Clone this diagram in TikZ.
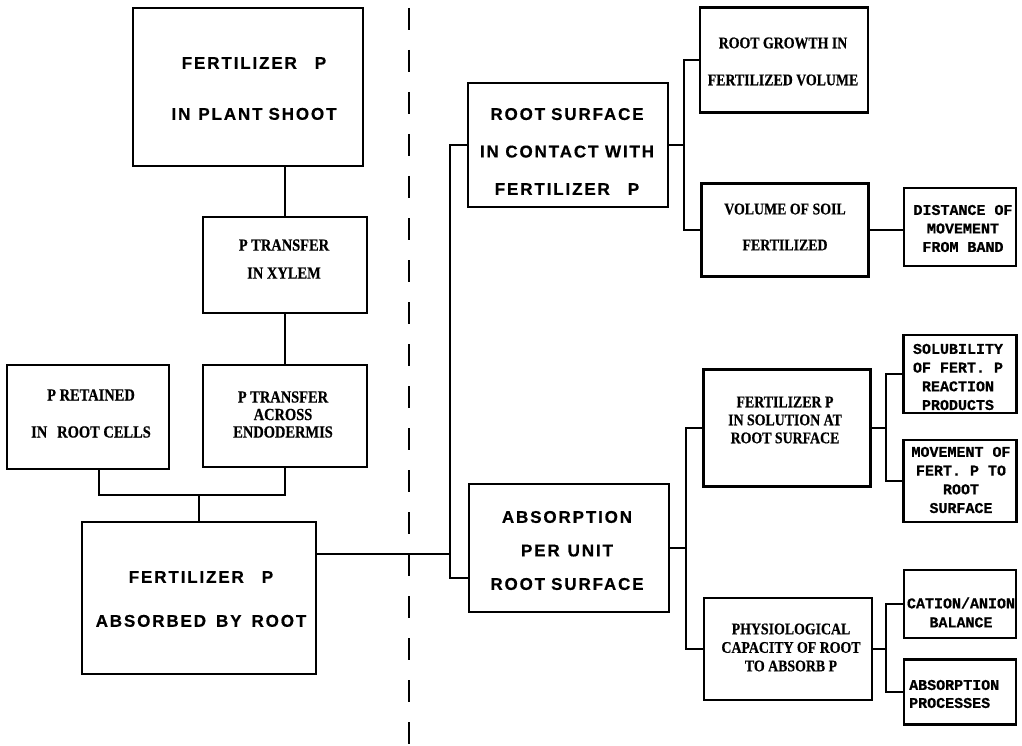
\documentclass[tikz,border=0pt]{standalone}
\usepackage{fontspec}
\setmainfont{Liberation Serif}
\newfontfamily\bigsans{Liberation Sans}[LetterSpace=11, FakeBold=0.6]
\newfontfamily\cserif{Liberation Serif}[FakeStretch=0.85, FakeBold=0.5]
\newfontfamily\monob{Liberation Mono}[FakeBold=0.5]
\begin{document}
\begin{tikzpicture}[x=1pt,y=-1pt,
  box/.style={draw, line width=2.3pt, inner sep=0pt},
  wire/.style={line width=1.9pt},
  divider/.style={line width=2pt, dash pattern=on 22pt off 20pt},
  bigtxt/.style={font=\bigsans\bfseries\fontsize{17}{#1}\selectfont, align=center, inner sep=0pt},
  midtxt/.style={font=\cserif\bfseries\fontsize{17}{#1}\selectfont, align=center, inner sep=0pt},
  rmidtxt/.style={font=\cserif\bfseries\fontsize{16.3}{#1}\selectfont, align=center, inner sep=0pt},
  smtxt/.style={font=\monob\bfseries\fontsize{15}{#1}\selectfont, align=center, inner sep=0pt}]
\useasboundingbox[fill=white] (0,0) rectangle (1022,746);

% boxes
\node[box, minimum width=230pt, minimum height=158pt] (shoot) at (248,87) {};
\node[box, minimum width=164pt, minimum height=96pt] (xylem) at (285,265) {};
\node[box, minimum width=162pt, minimum height=104pt] (retained) at (88,417) {};
\node[box, minimum width=164pt, minimum height=102pt] (endo) at (285,416) {};
\node[box, minimum width=234pt, minimum height=152pt] (absorbed) at (199,598) {};
\node[box, minimum width=200pt, minimum height=124pt] (rootsurf) at (568,145) {};
\node[box, minimum width=200pt, minimum height=128pt] (absorp) at (569,548) {};
\node[box, minimum width=168pt, minimum height=105pt] (growth) at (784,60) {};
\node[box, minimum width=167pt, minimum height=93pt] (volume) at (785,230) {};
\node[box, minimum width=112pt, minimum height=78pt] (distance) at (960,227) {};
\node[box, minimum width=167pt, minimum height=117pt] (solution) at (787,428) {};
\node[box, minimum width=113pt, minimum height=78pt] (solub) at (960,374) {};
\node[box, minimum width=113pt, minimum height=82pt] (movement) at (960,481) {};
\node[box, minimum width=168pt, minimum height=102pt] (physio) at (788,649) {};
\node[box, minimum width=112pt, minimum height=68pt] (cation) at (960,604) {};
\node[box, minimum width=112pt, minimum height=65pt] (absproc) at (960,692) {};

% texts
\node[bigtxt=51] (shoot-t) at (254,88.5) {FERTILIZER\hspace{18pt}P\\IN\hspace{8pt}PLANT\hspace{6pt}SHOOT};
\node[midtxt=28] (xylem-t) at (284,259) {P TRANSFER\\IN XYLEM};
\node[midtxt=37] (retained-t) at (91,413.5) {P RETAINED\\IN\hspace{10pt}ROOT CELLS};
\node[midtxt=17.5] (endo-t) at (283,414.5) {P TRANSFER\\ACROSS\\ENDODERMIS};
\node[bigtxt=44] (absorbed-t) at (201,599) {FERTILIZER\hspace{18pt}P\\ABSORBED\hspace{10pt}BY\hspace{10pt}ROOT};
\node[bigtxt=37.5] (rootsurf-t) at (567,151.5) {ROOT\hspace{6pt}SURFACE\\IN CONTACT WITH\\FERTILIZER\hspace{18pt}P};
\node[bigtxt=33.5] (absorp-t) at (567,550.5) {ABSORPTION\\PER\hspace{8pt}UNIT\\ROOT\hspace{6pt}SURFACE};
\node[rmidtxt=37] (growth-t) at (783,61.5) {ROOT GROWTH IN\\FERTILIZED VOLUME};
\node[rmidtxt=36] (volume-t) at (785,227) {VOLUME OF SOIL\\FERTILIZED};
\node[smtxt=18.5] (distance-t) at (963,228.5) {DISTANCE OF\\MOVEMENT\\FROM\hspace{9pt}BAND};
\node[rmidtxt=18] (solution-t) at (785,420) {FERTILIZER P\\IN SOLUTION AT\\ROOT SURFACE};
\node[smtxt=18.7] (solub-t) at (958,377) {SOLUBILITY\\OF FERT. P\\REACTION\\PRODUCTS};
\node[smtxt=18.7] (movement-t) at (961,480) {MOVEMENT OF\\FERT. P\hspace{9pt}TO\\ROOT\\SURFACE};
\node[rmidtxt=18.5] (physio-t) at (791,647.5) {PHYSIOLOGICAL\\CAPACITY OF ROOT\\TO ABSORB P};
\node[smtxt=19] (cation-t) at (961,612.5) {CATION/ANION\\BALANCE};
\node[smtxt=18, align=left, anchor=west] (absproc-t) at (909,694) {ABSORPTION\\PROCESSES};

% junction coordinates
\coordinate (jb) at (199,495);
\coordinate (sp) at (450,554);
\coordinate (rsj) at (684,145);
\coordinate (abj) at (686,548);
\coordinate (soj) at (886,428);
\coordinate (phj) at (886,649);
\coordinate (dtop) at (409,8);
\coordinate (dbot) at (409,746);

% connectors
\draw[wire] (xylem.north |- shoot.south) -- (xylem.north);
\draw[wire] (xylem.south) -- (endo.north);
\draw[wire] ([xshift=11pt]retained.south) |- (jb) -| (endo.south);
\draw[wire] (jb) -- (absorbed.north);
\draw[wire] (absorbed.east |- sp) -- (sp);
\draw[wire] (rootsurf.west) -| (sp) |- ([yshift=-30pt]absorp.west);
\draw[wire] (rootsurf.east) -- (rsj);
\draw[wire] (growth.west) -| (rsj) |- (volume.west);
\draw[wire] (volume.east) -- (volume.east -| distance.west);
\draw[wire] (absorp.east) -- (abj);
\draw[wire] (solution.west) -| (abj) |- (physio.west);
\draw[wire] (solution.east) -- (soj);
\draw[wire] (solub.west) -| (soj) |- (movement.west);
\draw[wire] (physio.east) -- (phj);
\draw[wire] (cation.west) -| (phj) |- (absproc.west);

% divider
\draw[divider] (dtop) -- (dbot);
\end{tikzpicture}
\end{document}
